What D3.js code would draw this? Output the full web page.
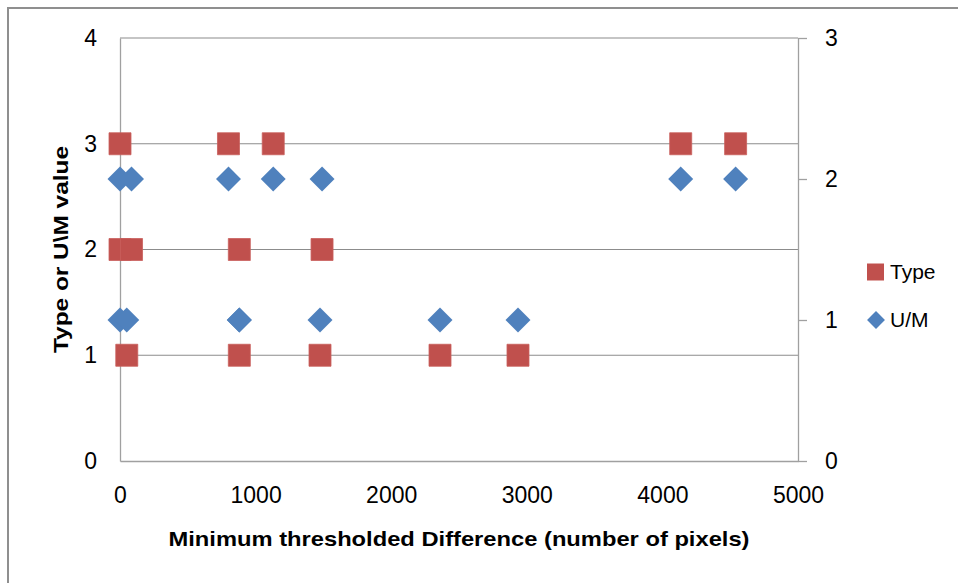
<!DOCTYPE html>
<html>
<head>
<meta charset="utf-8">
<script src="https://cdn.jsdelivr.net/npm/d3@7"></script>
<style>
  html, body { margin: 0; padding: 0; background: #fff; }
  svg { display: block; }
  text { font-family: "Liberation Sans", Arial, sans-serif; fill: #000; }
</style>
</head>
<body>
<svg id="chart" width="958" height="583"></svg>
<script>
// ---- data ----
const xValues   = [0, 0, 50, 85, 800, 880, 880, 1130, 1475, 1490, 2360, 2935, 4135, 4540];
const typeValues = [3, 2, 1, 2, 3, 2, 1, 3, 1, 2, 1, 1, 3, 3];
const umValues   = [2, 1, 1, 2, 2, 1, 1, 2, 1, 2, 1, 1, 2, 2];
const xTicks = [0, 1000, 2000, 3000, 4000, 5000];
const leftTicks = [0, 1, 2, 3, 4];
const rightTicks = [0, 1, 2, 3];
const seriesNames = ["Type", "U/M"];
const xTitle = "Minimum thresholded Difference (number of pixels)";
const yTitle = "Type or U\\M value";

// ---- layout ----
const svg = d3.select("#chart");
const L = 120, R = 798, T = 38, B = 461;
const x = d3.scaleLinear().domain([0, 5000]).range([L, R]);
const yL = d3.scaleLinear().domain([0, 4]).range([B, T]);
const yR = d3.scaleLinear().domain([0, 3]).range([B, T]);
const typeColor = "#C0504D", umColor = "#4F81BD";
const fmt = d3.format("d");
const tickFont = "23px";

// outer frame (clipped at right and bottom)
svg.append("path")
  .attr("d", "M8,590 L8,8 L970,8")
  .attr("fill", "none").attr("stroke", "#8f8f8f").attr("stroke-width", 2);

// gridlines
svg.append("g").selectAll("line").data(leftTicks.filter(d => d > 0)).join("line")
  .attr("x1", L).attr("x2", R)
  .attr("y1", d => yL(d)).attr("y2", d => yL(d))
  .attr("stroke", "#8c8c8c").attr("stroke-width", 1.2);

// left axis (line only, labels)
const gL = svg.append("g").attr("transform", `translate(${L},0)`)
  .call(d3.axisLeft(yL).tickValues(leftTicks).tickFormat(fmt).tickSize(0).tickPadding(23));
gL.select(".domain").attr("stroke", "#a0a0a0").attr("stroke-width", 1.3);
gL.selectAll("text").style("font-size", tickFont).style("font-family", "Liberation Sans, Arial, sans-serif");

// right axis
const gR = svg.append("g").attr("transform", `translate(${R},0)`)
  .call(d3.axisRight(yR).tickValues(rightTicks).tickFormat(fmt).tickSizeOuter(0).tickSizeInner(9).tickPadding(18));
gR.select(".domain").attr("stroke", "#a0a0a0").attr("stroke-width", 1.3);
gR.selectAll(".tick line").attr("stroke", "#a0a0a0").attr("stroke-width", 1.3);
gR.selectAll("text").style("font-size", tickFont).style("font-family", "Liberation Sans, Arial, sans-serif");

// bottom axis
const gB = svg.append("g").attr("transform", `translate(0,${B})`)
  .call(d3.axisBottom(x).tickValues(xTicks).tickSize(0).tickPadding(26).tickFormat(fmt));
gB.select(".domain").attr("stroke", "#a0a0a0").attr("stroke-width", 1.3);
gB.selectAll("text").style("font-size", tickFont).style("font-family", "Liberation Sans, Arial, sans-serif");

// series: Type (squares, left axis)
const sq = d3.symbol(d3.symbolSquare, 22 * 22);
svg.append("g").selectAll("path").data(xValues.map((v, i) => [v, typeValues[i]])).join("path")
  .attr("d", sq)
  .attr("transform", d => `translate(${x(d[0])},${yL(d[1])})`)
  .attr("fill", typeColor).attr("stroke", "#c9605d").attr("stroke-width", 0.8);

// series: U/M (diamonds, right axis)
const dm = d3.symbol(d3.symbolSquare, 312);
svg.append("g").selectAll("path").data(xValues.map((v, i) => [v, umValues[i]])).join("path")
  .attr("d", dm)
  .attr("transform", d => `translate(${x(d[0])},${yR(d[1])}) rotate(45)`)
  .attr("fill", umColor);

// axis titles
svg.append("text")
  .attr("x", (L + R) / 2).attr("y", 546)
  .attr("text-anchor", "middle")
  .attr("textLength", 581).attr("lengthAdjust", "spacingAndGlyphs")
  .style("font-size", "21px").style("font-weight", "bold")
  .text(xTitle);

svg.append("text")
  .attr("transform", `translate(68,${(T + B) / 2}) rotate(-90)`)
  .attr("text-anchor", "middle")
  .attr("textLength", 207).attr("lengthAdjust", "spacingAndGlyphs")
  .style("font-size", "20px").style("font-weight", "bold")
  .text(yTitle);

// legend
const lg = svg.append("g");
lg.append("path").attr("d", d3.symbol(d3.symbolSquare, 17 * 17))
  .attr("transform", "translate(875.5,272)").attr("fill", typeColor);
lg.append("path").attr("d", d3.symbol(d3.symbolSquare, 160))
  .attr("transform", "translate(876,320) rotate(45)").attr("fill", umColor);
lg.selectAll("text").data(seriesNames).join("text")
  .attr("x", 890).attr("y", (d, i) => 279 + i * 48)
  .style("font-size", "21px")
  .text(d => d);
</script>
</body>
</html>
